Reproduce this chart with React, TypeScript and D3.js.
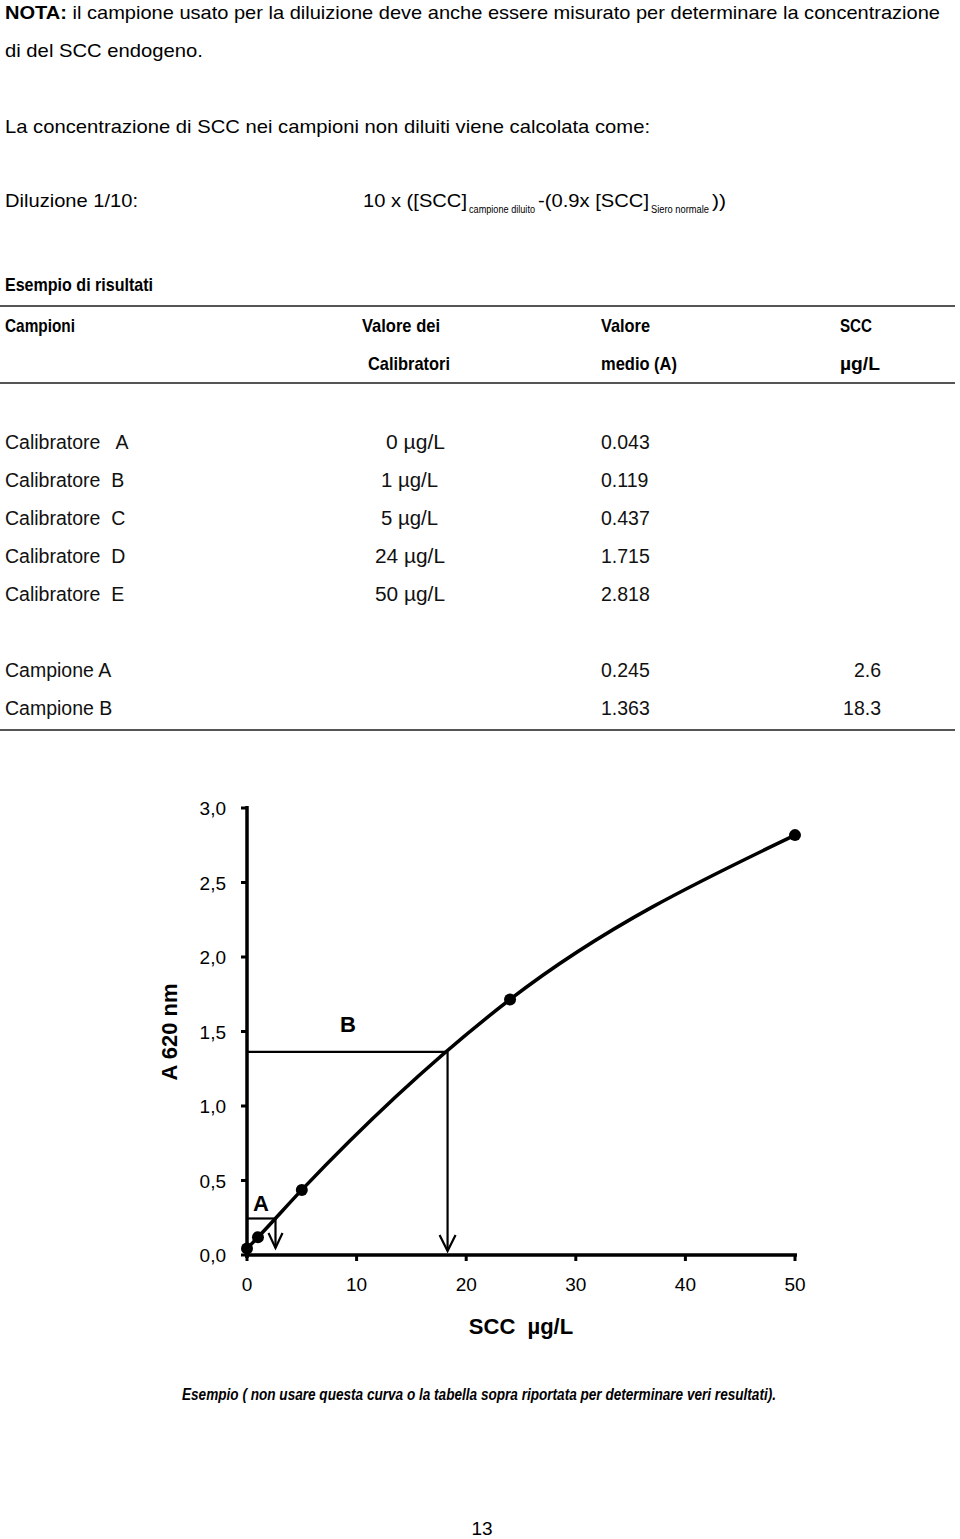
import React from "react";
import * as d3 from "d3";

const calibConc = [0, 1, 5, 24, 50];
const calibAbs = [0.043, 0.119, 0.437, 1.715, 2.818];
const calibNames = ["Calibratore   A", "Calibratore  B", "Calibratore  C", "Calibratore  D", "Calibratore  E"];
const calibLabels = ["0 µg/L", "1 µg/L", "5 µg/L", "24 µg/L", "50 µg/L"];
const calibAbsLabels = ["0.043", "0.119", "0.437", "1.715", "2.818"];
const sampleNames = ["Campione A", "Campione B"];
const sampleAbs = [0.245, 1.363];
const sampleConc = [2.6, 18.3];
const sampleAbsLabels = ["0.245", "1.363"];
const sampleConcLabels = ["2.6", "18.3"];
const sampleMarks = ["A", "B"];
const xTicks = [0, 10, 20, 30, 40, 50];
const yTicks = [0, 0.5, 1, 1.5, 2, 2.5, 3];

const SANS = "'Liberation Sans', Arial, Helvetica, sans-serif";
const NARROW = "'Liberation Sans Narrow', 'Liberation Sans', Arial, sans-serif";

export default function App() {
  const x = d3.scaleLinear().domain([0, 50]).range([247, 795]);
  const y = d3.scaleLinear().domain([0, 3]).range([1255, 808]);
  const pts = calibConc.map((c, i) => [c, calibAbs[i]] as [number, number]);
  const line = d3
    .line<[number, number]>()
    .x((d) => x(d[0]))
    .y((d) => y(d[1]))
    .curve(d3.curveMonotoneX);
  const fmt = (v: number) => d3.format(".1f")(v).replace(".", ",");
  const rowY = [449, 487, 525, 563, 601];
  const sRowY = [677, 715];
  const calibLabelX = [386, 381, 381, 375, 375];
  const calibLabelW = [59, 57, 57, 70, 70];

  return (
    <svg
      width={960}
      height={1539}
      style={{ position: "absolute", left: 0, top: 0, background: "#fff" }}
      fontFamily={SANS}
    >
      <rect width={960} height={1539} fill="#fff" />
      {/* Intro text */}
      <text x={5} y={19} fontSize={19} textLength={935} lengthAdjust="spacingAndGlyphs">
        <tspan fontWeight="bold">NOTA:</tspan> il campione usato per la diluizione deve anche essere misurato per determinare la concentrazione
      </text>
      <text x={5} y={57} fontSize={19} textLength={198} lengthAdjust="spacingAndGlyphs">
        di del SCC endogeno.
      </text>
      <text x={5} y={133} fontSize={19} textLength={645} lengthAdjust="spacingAndGlyphs">
        La concentrazione di SCC nei campioni non diluiti viene calcolata come:
      </text>
      <text x={5} y={207} fontSize={19} textLength={133} lengthAdjust="spacingAndGlyphs">
        Diluzione 1/10:
      </text>
      <text x={363} y={207} fontSize={19} textLength={104} lengthAdjust="spacingAndGlyphs">10 x ([SCC]</text>
      <text x={469} y={213} fontSize={10} textLength={66} lengthAdjust="spacingAndGlyphs">campione diluito</text>
      <text x={538} y={207} fontSize={19} textLength={111} lengthAdjust="spacingAndGlyphs">-(0.9x [SCC]</text>
      <text x={651} y={213} fontSize={10} textLength={58} lengthAdjust="spacingAndGlyphs">Siero normale</text>
      <text x={712} y={207} fontSize={19} textLength={14} lengthAdjust="spacingAndGlyphs">))</text>

      {/* Table */}
      <text x={5} y={291} fontSize={19} fontWeight="bold" fontFamily={NARROW} textLength={148} lengthAdjust="spacingAndGlyphs">
        Esempio di risultati
      </text>
      <line x1={0} x2={955} y1={306} y2={306} stroke="#555" strokeWidth={2} />
      <g fontFamily={NARROW} fontWeight="bold" fontSize={19}>
        <text x={5} y={332} textLength={70} lengthAdjust="spacingAndGlyphs">Campioni</text>
        <text x={362} y={332} textLength={78} lengthAdjust="spacingAndGlyphs">Valore dei</text>
        <text x={601} y={332} textLength={49} lengthAdjust="spacingAndGlyphs">Valore</text>
        <text x={840} y={332} textLength={32} lengthAdjust="spacingAndGlyphs">SCC</text>
        <text x={368} y={370} textLength={82} lengthAdjust="spacingAndGlyphs">Calibratori</text>
        <text x={601} y={370} textLength={76} lengthAdjust="spacingAndGlyphs">medio (A)</text>
        <text x={840} y={370} textLength={40} lengthAdjust="spacingAndGlyphs">µg/L</text>
      </g>
      <line x1={0} x2={955} y1={383} y2={383} stroke="#555" strokeWidth={2} />
      <g fontSize={19.5} fill="#111">
        {calibNames.map((n, i) => (
          <g key={n}>
            <text x={5} y={rowY[i]} xmlSpace="preserve" style={{ whiteSpace: "pre" }}>{n}</text>
            <text x={calibLabelX[i]} y={rowY[i]} textLength={calibLabelW[i]} lengthAdjust="spacingAndGlyphs">{calibLabels[i]}</text>
            <text x={601} y={rowY[i]}>{calibAbsLabels[i]}</text>
          </g>
        ))}
        {sampleNames.map((n, i) => (
          <g key={n}>
            <text x={5} y={sRowY[i]}>{n}</text>
            <text x={601} y={sRowY[i]}>{sampleAbsLabels[i]}</text>
            <text x={881} y={sRowY[i]} textAnchor="end">{sampleConcLabels[i]}</text>
          </g>
        ))}
      </g>
      <line x1={0} x2={955} y1={730} y2={730} stroke="#555" strokeWidth={2} />

      {/* Chart */}
      <g>
        <line x1={x(0)} x2={x(0)} y1={y(3) - 2} y2={y(0) + 3} stroke="#000" strokeWidth={3.5} />
        <line x1={x(0) - 2} x2={x(50) + 2} y1={y(0)} y2={y(0)} stroke="#000" strokeWidth={3.5} />
        {yTicks.map((t) => (
          <g key={"y" + t}>
            <line x1={x(0) - 6} x2={x(0)} y1={y(t)} y2={y(t)} stroke="#000" strokeWidth={3} />
            <text x={226} y={y(t) + 7} fontSize={19} textAnchor="end">{fmt(t)}</text>
          </g>
        ))}
        {xTicks.map((t) => (
          <g key={"x" + t}>
            <line x1={x(t)} x2={x(t)} y1={y(0)} y2={y(0) + 6} stroke="#000" strokeWidth={3} />
            <text x={x(t)} y={1291} fontSize={19} textAnchor="middle">{t}</text>
          </g>
        ))}
        <text x={521} y={1334} fontSize={22} fontWeight="bold" textAnchor="middle" xmlSpace="preserve" style={{ whiteSpace: "pre" }}>SCC  µg/L</text>
        <text transform="translate(177,1032) rotate(-90)" fontSize={22} fontWeight="bold" textAnchor="middle">A 620 nm</text>

        {/* Sample reading lines */}
        {sampleAbs.map((a, i) => {
          const sx = x(sampleConc[i]);
          const sy = y(a);
          const tip = y(0) - (i === 0 ? 7 : 4);
          const hw = i === 0 ? 7 : 8;
          const hh = i === 0 ? 15 : 16;
          return (
            <g key={"s" + i} stroke="#000" strokeWidth={2.2} fill="none">
              <line x1={x(0)} x2={sx} y1={sy} y2={sy} />
              <line x1={sx} x2={sx} y1={sy} y2={tip} />
              <polyline points={`${sx - hw},${tip - hh} ${sx},${tip} ${sx + hw},${tip - hh}`} />
            </g>
          );
        })}
        <text x={261} y={1211} fontSize={22} fontWeight="bold" textAnchor="middle">{sampleMarks[0]}</text>
        <text x={348} y={1032} fontSize={22} fontWeight="bold" textAnchor="middle">{sampleMarks[1]}</text>

        <path d={line(pts) || ""} fill="none" stroke="#000" strokeWidth={3.5} />
        {pts.map((p, i) => (
          <circle key={"p" + i} cx={x(p[0])} cy={y(p[1])} r={6} fill="#000" />
        ))}
      </g>

      <text x={182} y={1400} fontSize={17} fontStyle="italic" fontWeight="bold" fontFamily={NARROW} textLength={594} lengthAdjust="spacingAndGlyphs">
        Esempio ( non usare questa curva o la tabella sopra riportata per determinare veri resultati).
      </text>
      <text x={482} y={1535} fontSize={19} textAnchor="middle">13</text>
    </svg>
  );
}
